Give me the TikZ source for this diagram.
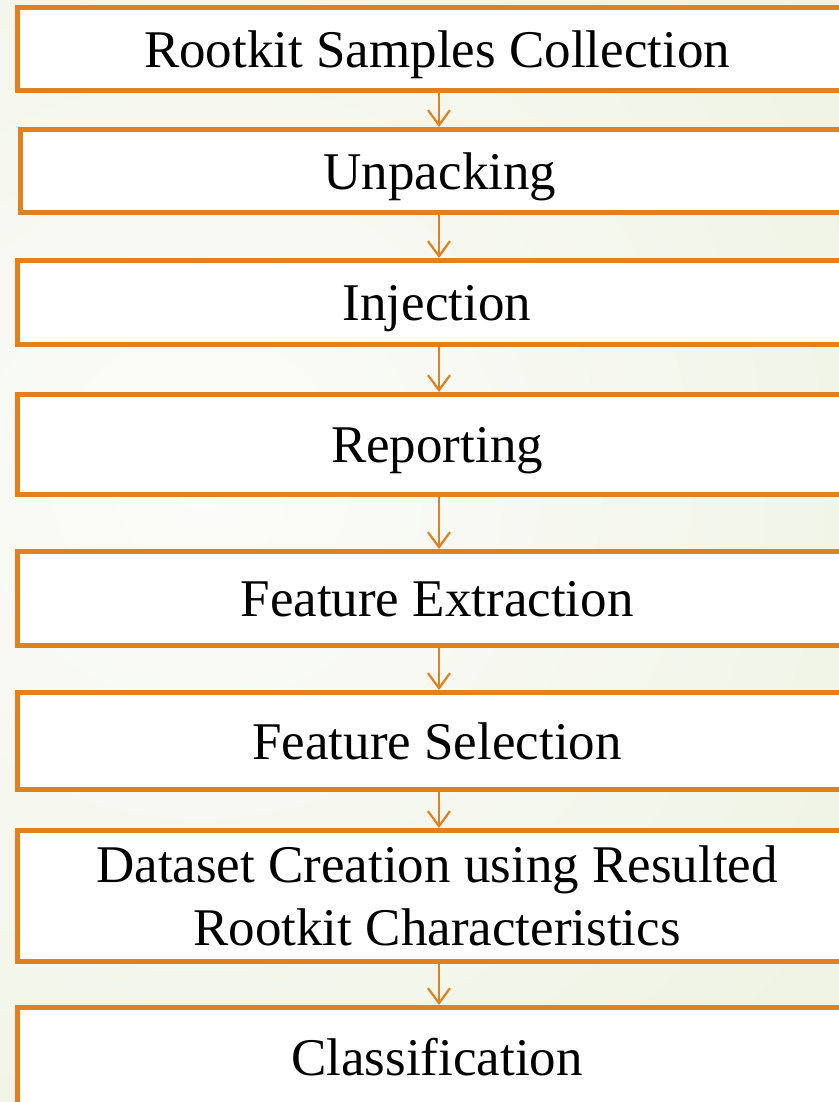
\documentclass[tikz,border=0pt]{standalone}
\usepackage{fontspec}
\setmainfont{Liberation Serif}
\usetikzlibrary{arrows.meta}
\definecolor{boxorange}{RGB}{224,128,30}
\definecolor{bgin}{RGB}{252,252,250}
\definecolor{bgout}{RGB}{231,238,215}
\begin{document}
\begin{tikzpicture}[x=1bp,y=-1bp,
  stepbox/.style={draw=boxorange, line width=5bp, fill=white, rectangle,
    minimum width=839bp, inner sep=0pt, align=center,
    font=\fontsize{53bp}{63bp}\selectfont},
  lowtext/.style={text depth=0pt},
  flow/.style={draw=boxorange, line width=2.2bp,
    -{Straight Barb[length=15bp,width=22bp]}}]
\useasboundingbox (0,0) rectangle (839,1102);
\clip (0,0) rectangle (839,1102);
\fill[bgout] (0,0) rectangle (839,1102);
\shade[inner color=bgin, outer color=bgout] (200,480) circle (1250);
\coordinate (ax) at (439,0);
\node[stepbox, lowtext, minimum height=83bp] (b1) at (437,49) {Rootkit Samples Collection};
\node[stepbox, lowtext, minimum height=83bp] (b2) at (440,171) {Unpacking};
\node[stepbox, lowtext, minimum height=84bp] (b3) at (437,302.5) {Injection};
\node[stepbox, lowtext, minimum height=100bp] (b4) at (437,444.5) {Reporting};
\node[stepbox, lowtext, minimum height=94bp] (b5) at (437,598.5) {Feature Extraction};
\node[stepbox, lowtext, minimum height=97bp] (b6) at (437,741) {Feature Selection};
\node[stepbox, minimum height=131bp] (b7) at (437,896) {Dataset Creation using Resulted\\Rootkit Characteristics};
\node[stepbox, minimum height=100bp] (b8) at (437,1057.5) {Classification};
\draw[flow] (b1.south -| ax) -- (b2.north -| ax);
\draw[flow] (b2.south -| ax) -- (b3.north -| ax);
\draw[flow] (b3.south -| ax) -- (b4.north -| ax);
\draw[flow] (b4.south -| ax) -- (b5.north -| ax);
\draw[flow] (b5.south -| ax) -- (b6.north -| ax);
\draw[flow] (b6.south -| ax) -- (b7.north -| ax);
\draw[flow] (b7.south -| ax) -- (b8.north -| ax);
\end{tikzpicture}
\end{document}
